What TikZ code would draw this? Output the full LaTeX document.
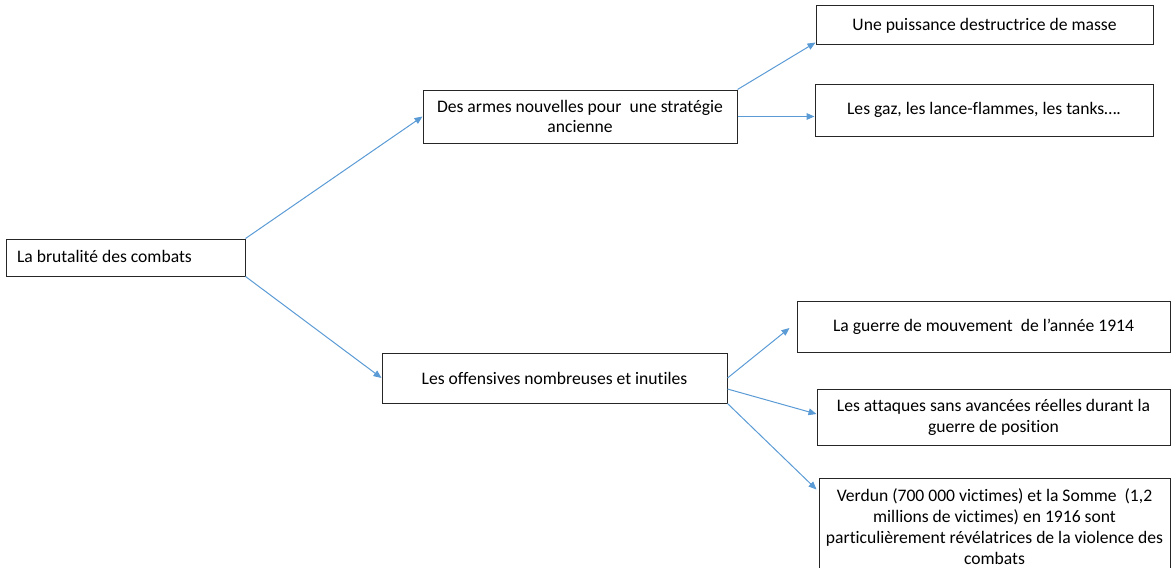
\documentclass[tikz,border=0pt]{standalone}
\usepackage{fontspec}
\setmainfont{Carlito}[Ligatures=NoCommon]
\usetikzlibrary{arrows.meta,calc}
\definecolor{fleche}{RGB}{91,155,213}
\tikzset{
  boite/.style={draw=black!85, line width=0.75pt, align=center, inner sep=0pt,
    font=\fontsize{13.2}{15.6}\selectfont},
  lien/.style={draw=fleche, line width=0.75pt, -{Triangle[length=6pt,width=5pt]}}
}
\begin{document}
\begin{tikzpicture}[x=0.75pt, y=-0.75pt]
	  \useasboundingbox (0,0) rectangle (1173,567);
	  % boites
	  \node[boite, minimum width=179.25pt, minimum height=27.75pt, text width=162.75pt, align=flush left] (brut) at (125.5,257.5) {La brutalité des combats\vspace{2pt}};
	  \node[boite, minimum width=235.5pt, minimum height=39.75pt] (armes) at (580,116.5) {Des armes nouvelles pour\ \ une stratégie\\ancienne};
	  \node[boite, minimum width=252.75pt, minimum height=29.25pt] (puiss) at (984.5,25.5) {Une puissance destructrice de masse};
	  \node[boite, minimum width=253.5pt, minimum height=39pt] (gaz) at (984,110) {Les gaz, les lance-flammes, les tanks….};
	  \node[boite, minimum width=258.75pt, minimum height=37.5pt] (offens) at (554.5,378) {Les offensives nombreuses et inutiles};
	  \node[boite, minimum width=279.75pt, minimum height=38.25pt] (mouv) at (983.5,326.5) {La guerre de mouvement\ \ de l’année 1914};
	  \node[boite, minimum width=264.75pt, minimum height=42pt] (attaq) at (993.5,417) {Les attaques sans avancées réelles durant la\\guerre de position};
	  \node[boite, minimum width=263.25pt, minimum height=72.75pt] (verdun) at (994.5,526.5) {Verdun (700 000 victimes) et la Somme\ \ (1,2\\millions de victimes) en 1916 sont\\particulièrement révélatrices de la violence des\\combats};
	  % fleches
	  \draw[lien] (brut.north east) -- (armes.west);
	  \draw[lien] (brut.south east) -- (offens.west);
	  \draw[lien] (armes.north east) -- ($(puiss.south west)+(0,-3)$);
	  \draw[lien] (armes.east) -- (armes.east -| gaz.west);
	  \draw[lien] (offens.east) -- ($(mouv.west)+(-7,1.5)$);
	  \draw[lien] ($(offens.east)+(0,11)$) -- ($(attaq.west)+(0,-3)$);
	  \draw[lien] (offens.south east) -- ($(verdun.north west)+(-2,12)$);
	\end{tikzpicture}
\end{document}
